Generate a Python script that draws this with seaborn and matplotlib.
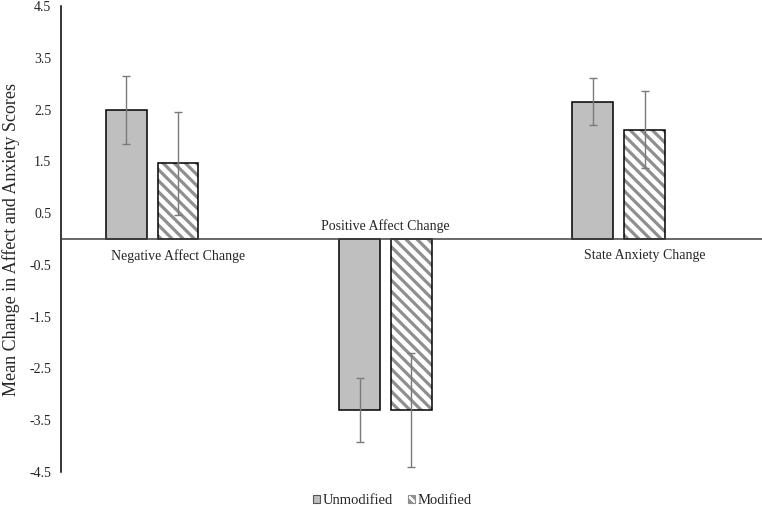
import numpy as np
import pandas as pd
import matplotlib
matplotlib.use('Agg')
from matplotlib import pyplot as plt
from matplotlib.patches import Patch, Rectangle
import seaborn as sns

# values
categories = ['Negative Affect Change', 'Positive Affect Change', 'State Anxiety Change']
conditions = ['Unmodified', 'Modified']
unmodified_mean = [2.49, -3.31, 2.65]
unmodified_err = [0.66, 0.62, 0.45]
modified_mean = [1.46, -3.31, 2.11]
modified_err = [1.00, 1.10, 0.74]
ytick_values = [-4.5, -3.5, -2.5, -1.5, -0.5, 0.5, 1.5, 2.5, 3.5, 4.5]

df = pd.DataFrame({
    'category': categories * 2,
    'condition': [conditions[0]] * 3 + [conditions[1]] * 3,
    'value': unmodified_mean + modified_mean,
})

sns.set_style('white')
plt.rcParams['font.family'] = ['Liberation Serif', 'DejaVu Serif']
plt.rcParams['hatch.linewidth'] = 2.3

fig = plt.figure(figsize=(7.62, 5.07), dpi=100)
ax = fig.add_axes([61 / 762, 35 / 507, 701 / 762, 466 / 507])

sns.barplot(data=df, x='category', y='value', hue='condition',
            palette=['#bfbfbf', 'white'], width=0.444, gap=0.21,
            errorbar=None, edgecolor='black', linewidth=1.1,
            legend=False, ax=ax)

hatch_gray = '#8f8f8f'
for p in ax.containers[1]:
    p.set_facecolor('white')
    p.set_edgecolor(hatch_gray)
    p.set_hatch('\\\\\\')
    p.set_linewidth(0)
    ax.add_patch(Rectangle((p.get_x(), p.get_y()), p.get_width(), p.get_height(),
                           fill=False, edgecolor='black', linewidth=1.1, zorder=3))

# error bars
for cont, means, errs in zip(ax.containers, [unmodified_mean, modified_mean],
                             [unmodified_err, modified_err]):
    xs = [p.get_x() + p.get_width() / 2 for p in cont]
    ax.errorbar(xs, means, yerr=errs, fmt='none', ecolor='#7a7a7a',
                elinewidth=1, capsize=3, capthick=1, zorder=4)

ax.axhline(0, color='#404040', linewidth=1.1, zorder=5)

# category labels sit next to the zero line, opposite the bars
label_x = [0.11, 0.0, 0.11]
for i, (cat, m) in enumerate(zip(categories, unmodified_mean)):
    if m >= 0:
        ax.text(i + label_x[i], -0.2, cat, ha='center', va='top', fontsize=10)
    else:
        ax.text(i + label_x[i], 0.12, cat, ha='center', va='bottom', fontsize=10)

ax.set_xlim(-0.3906, 2.614)
ax.set_ylim(-4.5, 4.5)
ax.set_xticks([])
ax.set_xlabel('')
ax.set_yticks(ytick_values)
ax.set_yticklabels([f'{v:.1f}' for v in ytick_values], fontsize=10)
ax.tick_params(axis='y', length=0, pad=7)
ax.set_ylabel('Mean Change in Affect and Anxiety Scores', fontsize=13)
ax.yaxis.set_label_coords(-0.058, 0.5)

for side in ['top', 'right', 'bottom']:
    ax.spines[side].set_visible(False)
ax.spines['left'].set_color('black')
ax.spines['left'].set_linewidth(1.1)

handles = [Patch(facecolor='#bfbfbf', edgecolor='#555555', linewidth=0.8),
           Patch(facecolor='white', edgecolor=hatch_gray, hatch='\\\\\\\\', linewidth=0.8)]
fig.legend(handles, conditions, loc='center', bbox_to_anchor=(0.515, 0.012),
           ncol=2, frameon=False, fontsize=10.5, handlelength=0.5, handleheight=0.5,
           handletextpad=0.2, columnspacing=1.0)

fig.savefig('out.png', dpi=100)
